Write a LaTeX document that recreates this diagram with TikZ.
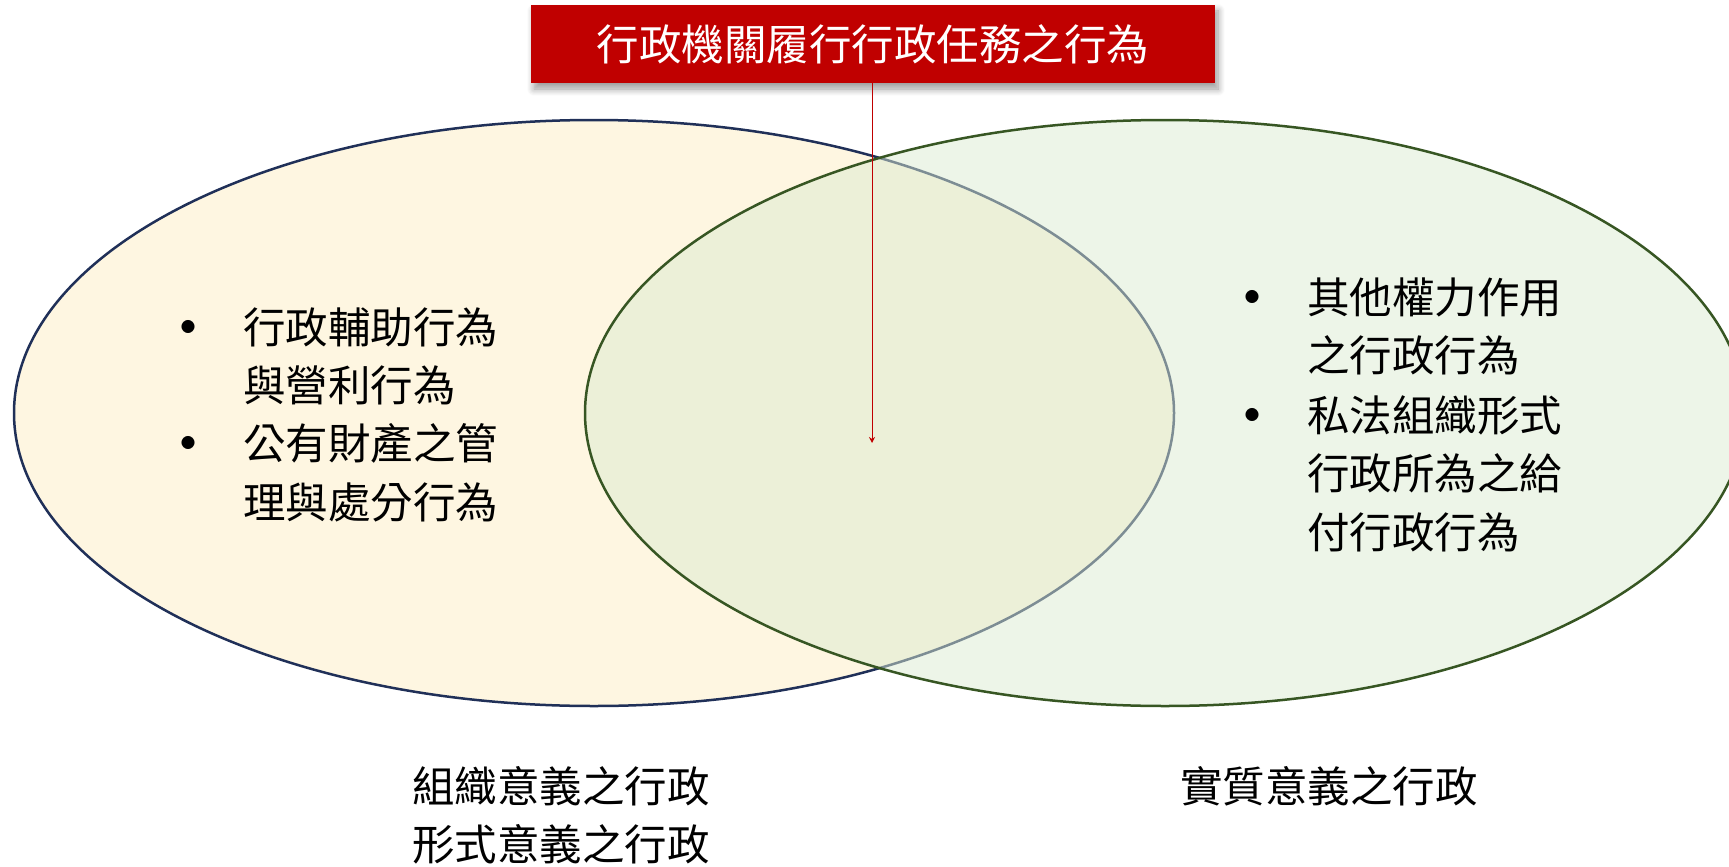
\documentclass[tikz,border=0pt]{standalone}
\usepackage{fontspec}
\setmainfont{Noto Sans CJK TC}
\usetikzlibrary{arrows.meta,shapes.geometric,shadows.blur}
\definecolor{boxred}{RGB}{192,0,0}
\definecolor{orgfill}{RGB}{254,246,225}
\definecolor{orgline}{RGB}{32,48,88}
\definecolor{matfill}{RGB}{219,235,209}
\definecolor{matline}{RGB}{55,86,35}
\begin{document}
\begin{tikzpicture}[x=1pt,y=-1pt,
  every node/.style={inner sep=0pt, outer sep=0pt},
  cjk/.style={font=\fontsize{42.5}{58}\selectfont, text height=37.4pt, text depth=5.1pt},
  line/.style={cjk, anchor=west},
  mid/.style={cjk, anchor=center},
  bul/.style={font=\fontsize{14.5}{14.5}\selectfont, anchor=center},
  venn/.style={ellipse, minimum width=1160pt, minimum height=586pt, line width=2.5pt}]
\useasboundingbox (0,0) rectangle (1729,867);
\clip (0,0) rectangle (1729,867);
% ellipses
\node[venn, draw=orgline, fill=orgfill] (org) at (594,413) {};
\node[venn, draw=matline, fill=matfill, fill opacity=0.5] (mat) at (1165,413) {};
% title box
\node[fill=boxred, minimum width=684pt, minimum height=78pt, text=white, cjk,
      blur shadow={shadow xshift=3pt, shadow yshift=-6pt, shadow blur steps=8, shadow blur radius=7pt, shadow opacity=40}]
      (title) at (873,44) {行政機關履行行政任務之行為};
\coordinate (tip) at (872,443);
\draw[boxred, line width=1pt, -{Stealth[length=6pt,width=6pt]}] (title.south -| tip) -- (tip);
% left items
\node[bul] (lb1) at (188,327) {●};
\node[line] (l1) at (243,327) {行政輔助行為};
\node[line] (l2) at (243,385) {與營利行為};
\node[bul] (lb2) at (188,443) {●};
\node[line] (l3) at (243,443) {公有財產之管};
\node[line] (l4) at (243,502) {理與處分行為};
% right items
\node[bul] (rb1) at (1252,297) {●};
\node[line] (r1) at (1307,297) {其他權力作用};
\node[line] (r2) at (1307,355) {之行政行為};
\node[bul] (rb2) at (1252,415) {●};
\node[line] (r3) at (1307,415) {私法組織形式};
\node[line] (r4) at (1307,473) {行政所為之給};
\node[line] (r5) at (1307,532) {付行政行為};
% bottom labels
\node[mid] (bl1) at (561,786) {組織意義之行政};
\node[mid] (bl2) at (561,844) {形式意義之行政};
\node[mid] (br1) at (1329,786) {實質意義之行政};
\end{tikzpicture}
\end{document}
